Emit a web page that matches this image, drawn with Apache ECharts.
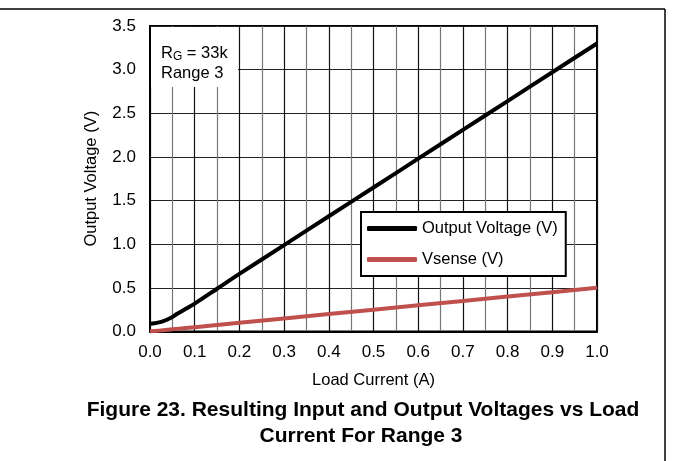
<!DOCTYPE html>
<html>
<head>
<meta charset="utf-8">
<script src="https://cdn.jsdelivr.net/npm/echarts@6/dist/echarts.min.js"></script>
<style>html,body{margin:0;padding:0;background:#fff}#c{width:673px;height:461px}</style>
</head>
<body>
<div id="c"></div>
<script>
const current = [0, 0.01, 0.02, 0.03, 0.04, 0.05, 0.06, 0.08, 0.1, 0.15, 0.2, 0.3, 0.4, 0.5, 0.6, 0.7, 0.8, 0.9, 1.0];
const outputVoltage = [0.09, 0.095, 0.105, 0.12, 0.14, 0.165, 0.2, 0.26, 0.32, 0.49, 0.66, 0.99, 1.32, 1.65, 1.98, 2.31, 2.64, 2.97, 3.3];
const vsense = [0, 0.005, 0.01, 0.015, 0.02, 0.025, 0.03, 0.04, 0.05, 0.075, 0.1, 0.15, 0.2, 0.25, 0.3, 0.35, 0.4, 0.45, 0.5];
const seriesNames = ['Output Voltage (V)', 'Vsense (V)'];
const xTitle = 'Load Current (A)';
const yTitle = 'Output Voltage (V)';
const titleLines = ['Figure 23. Resulting Input and Output Voltages vs Load', 'Current For Range 3'];

const font = 'Liberation Sans, Arial, sans-serif';
const chart = echarts.init(document.getElementById('c'), null, {renderer: 'canvas'});
chart.setOption({
  animation: false,
  backgroundColor: '#fff',
  grid: {left: 150, right: 76, top: 26, bottom: 129.5, show: true, borderColor: '#000', borderWidth: 2, backgroundColor: 'transparent'},
  xAxis: {
    type: 'value', min: 0, max: 1, interval: 0.1,
    name: xTitle, nameLocation: 'middle', nameGap: 40,
    nameTextStyle: {fontFamily: font, fontSize: 16.5, color: '#000'},
    axisLine: {show: true, lineStyle: {color: '#000', width: 2}},
    axisTick: {show: false},
    axisLabel: {fontFamily: font, fontSize: 17, color: '#000', margin: 12, formatter: v => v.toFixed(1)},
    splitLine: {show: true, lineStyle: {color: '#111', width: 1.2}},
    minorTick: {show: false, splitNumber: 2},
    minorSplitLine: {show: true, lineStyle: {color: '#777', width: 1.2}}
  },
  yAxis: {
    type: 'value', min: 0, max: 3.5, interval: 0.5,
    name: yTitle, nameLocation: 'middle', nameGap: 50,
    nameTextStyle: {fontFamily: font, fontSize: 16.5, color: '#000'},
    axisLine: {show: true, lineStyle: {color: '#000', width: 2}},
    axisTick: {show: false},
    axisLabel: {fontFamily: font, fontSize: 17, color: '#000', margin: 14, formatter: v => v.toFixed(1)},
    splitLine: {show: true, lineStyle: {color: '#222', width: 1.2}}
  },
  legend: {
    orient: 'vertical', left: 361, top: 212,
    backgroundColor: '#fff', borderColor: '#000', borderWidth: 2,
    padding: [7, 8, 7, 6], itemGap: 12, itemWidth: 50, itemHeight: 5,
    icon: 'roundRect',
    textStyle: {fontFamily: font, fontSize: 16.5, color: '#000', lineHeight: 19},
    data: seriesNames
  },
  series: [
    {name: seriesNames[0], type: 'line', smooth: 0.3, symbol: 'none',
     data: current.map((x, i) => [x, outputVoltage[i]]),
     lineStyle: {color: '#000', width: 4}, itemStyle: {color: '#000'}, z: 3},
    {name: seriesNames[1], type: 'line', symbol: 'none',
     data: current.map((x, i) => [x, vsense[i]]),
     lineStyle: {color: '#C0504D', width: 4}, itemStyle: {color: '#C0504D'}, z: 2}
  ],
  graphic: [
    {type: 'line', shape: {x1: 0, y1: 9, x2: 665, y2: 9}, style: {stroke: '#000', lineWidth: 1.5}},
    {type: 'line', shape: {x1: 665, y1: 9, x2: 665, y2: 461}, style: {stroke: '#000', lineWidth: 1.5}},
    {type: 'rect', shape: {x: 151, y: 27, width: 87, height: 60}, style: {fill: '#fff'}, z: 10},
    {type: 'text', x: 161, y: 43, z: 11, style: {
      text: 'R{s|G} = 33k\nRange 3', fontFamily: font, fontSize: 16.5, fill: '#000', lineHeight: 20,
      rich: {s: {fontFamily: font, fontSize: 12, fill: '#000', padding: [7, 0, 0, 0]}}
    }},
    {type: 'text', x: 363, y: 410, z: 11, style: {
      text: titleLines[0], fontFamily: font, fontSize: 21, fontWeight: 'bold', fill: '#000',
      textAlign: 'center', textVerticalAlign: 'middle'}},
    {type: 'text', x: 361, y: 436, z: 11, style: {
      text: titleLines[1], fontFamily: font, fontSize: 21, fontWeight: 'bold', fill: '#000',
      textAlign: 'center', textVerticalAlign: 'middle'}}
  ]
});
</script>
</body>
</html>
